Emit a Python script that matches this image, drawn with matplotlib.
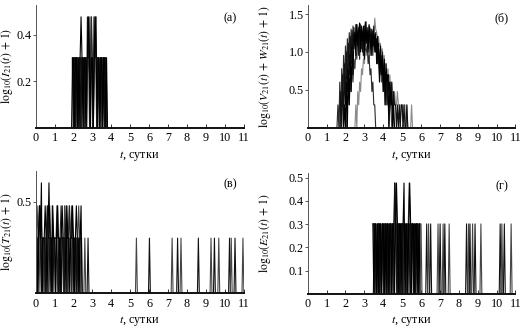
import numpy as np
import matplotlib
matplotlib.use("Agg")
import matplotlib.pyplot as plt

plt.rcParams['font.family'] = ['Liberation Serif', 'DejaVu Serif']
plt.rcParams['mathtext.fontset'] = 'stix'

DT = 0.05  # sampling step of the simulated runs, days
DAYS = list(range(12))

# Panel (а): I21 counts, runs given as (start day, counts per step)
i21_runs = [
    (1.975, "1011010110" "1101011202" "1021101101" "1011010"),
    (2.000, "0101101001" "1011011012" "1011201101" "011010"),
    (1.9375, "1010110110" "1101102110" "1101211010" "110101"),
    (1.900, "0110110101" "2101101121" "0110121011" "011011010"),
]

# Panel (б): V21 + W21 counts, five runs
vw21_runs = [
    (2.50, [0, 1, 0, 2, 1, 3, 2, 5, 4, 7, 6, 9,
            8, 11, 10, 13, 12, 15, 14, 17, 16, 27,
            19, 17, 14, 15, 11, 12, 9, 10, 7, 8, 5, 6, 4, 5, 3, 4, 2, 3,
            2, 1, 2, 1, 1, 2, 1, 1, 0, 1, 1, 0, 1, 1, 0, 1, 0, 0, 0, 0, 1, 0]),
    (2.05, [0, 1, 2, 1, 3, 2, 5, 3, 7, 5, 9, 7, 12,
            20, 9, 22, 12, 17, 8, 21, 11, 24, 10, 18, 7, 20, 12, 16, 8, 14,
            13, 9, 10, 6, 8, 4, 6, 3, 5, 2, 4, 1, 3, 1, 2, 0, 1, 1, 0, 0]),
    (1.55, [0, 1, 0, 3, 0, 5, 1, 8, 2, 11, 4, 14, 6, 17, 9,
            19, 8, 21, 11, 17, 9, 22, 12, 18, 7, 20, 10, 16, 8, 13, 10,
            9, 11, 6, 8, 4, 5, 2, 3, 1, 1, 0]),
    (1.70, [0, 2, 0, 4, 0, 6, 1, 9, 2, 12, 4, 15, 6, 18, 10,
            20, 10, 22, 13, 18, 8, 23, 12, 21, 9, 19, 11, 22, 14, 17, 9, 21, 12, 19, 8,
            18, 11, 16, 9,
            14, 6, 12, 5, 10, 4, 9, 3, 7, 2, 6, 1, 4, 2, 3, 1, 3, 0, 2, 1, 1, 0, 1, 0,
            1, 0, 1, 1, 0, 1, 0, 0, 1, 0]),
    (1.90, [0, 1, 0, 3, 0, 5, 1, 8, 2, 11, 4, 15,
            17, 8, 22, 11, 18, 23, 9, 20, 13, 21, 7, 24, 12, 20, 10, 22, 15, 8, 19, 11,
            21, 9, 17, 6, 15,
            10, 3, 11, 4, 8, 2, 7, 1, 5, 3, 4, 0, 3, 1, 2, 0, 1, 0]),
]

# Panel (в): T21 counts, dense early phase plus isolated later events
t21_runs = [
    (0.025, "1210121101" "1120110211" "0121101110" "2101121101" "1101121010"),
    (0.040, "0112101110" "1011211011" "1101012110" "1110121011" "0110101"),
    (0.0125, "1101210111" "0121101101" "1112011011" "0121101121" "01101011"),
    (0.000, "4101213011" "2101311021" "1012110121" "1102110112" "1012110120"),
]
t21_late_days = [2.60, 2.77, 5.33, 6.02, 7.22, 7.51, 7.69, 8.61, 9.28, 9.46,
                 9.69, 10.26, 10.35, 10.55, 10.97]
t21_late_counts = [1] * len(t21_late_days)

# Panel (г): E21 counts
e21_runs = [
    (3.475, "0110101101" "1011010110" "1101210110" "1101101121" "0110101101"),
    (3.500, "1010110101" "0110110101" "1021101101" "1011010110" "1101011010"),
    (3.4625, "1101011010" "1101101011" "0112101101" "1011010110" "0110101101"),
    (3.450, "1011010110" "1101011011" "0110121011" "0112011012" "10110110101"),
]
e21_late_days = [6.00, 6.30, 6.40, 6.51, 6.90, 7.01, 7.17, 7.26, 7.49, 8.41,
                 8.52, 8.59, 8.73, 8.86, 9.17, 10.19, 10.28, 10.41, 10.77]
e21_late_counts = [1] * len(e21_late_days)

RUN_COLORS = ['#8a8a8a', '#454545', '#2a2a2a', '#111111', '#000000']


def run_series(start, counts):
    n = np.array([int(c) for c in counts], dtype=float)
    t = start + DT * np.arange(len(n))
    return t, np.log10(n + 1)


def event_series(days, counts):
    t, y = [], []
    for d, c in zip(days, counts):
        t += [d - DT, d, d + DT]
        y += [0.0, np.log10(c + 1), 0.0]
    return np.array(t), np.array(y)


fig = plt.figure(figsize=(5.2, 3.28), dpi=100)

panels = [
    # rect, runs, late events, ylim top, yticks, ylabel, tag, ylabel x
    ([0.0687, 0.6107, 0.3996, 0.374], i21_runs, None, 0.528, [0.2, 0.4],
     r'$\mathrm{log}_{10}(I_{21}(t)\,+\,1)$', '(а)', -0.098),
    ([0.5917, 0.6107, 0.3996, 0.374], vw21_runs, None, 1.62, [0.5, 1.0, 1.5],
     r'$\mathrm{log}_{10}(V_{21}(t)\,+\,W_{21}(t)\,+\,1)$', '(б)', -0.165),
    ([0.0687, 0.1058, 0.3996, 0.374], t21_runs, (t21_late_days, t21_late_counts), 0.669, [0.5],
     r'$\mathrm{log}_{10}(T_{21}(t)\,+\,1)$', '(в)', -0.098),
    ([0.5917, 0.1043, 0.3996, 0.368], e21_runs, (e21_late_days, e21_late_counts), 0.52,
     [0.1, 0.2, 0.3, 0.4, 0.5],
     r'$\mathrm{log}_{10}(E_{21}(t)\,+\,1)$', '(г)', -0.165),
]

for rect, runs, late, ytop, yticks, ylabel, tag, ylab_x in panels:
    ax = fig.add_axes(rect)
    first = len(RUN_COLORS) - len(runs)
    for k, (start, counts) in enumerate(runs):
        t, y = run_series(start, counts)
        ax.plot(t, y, color=RUN_COLORS[first + k], lw=0.8)
    if late is not None:
        for k, (d, c) in enumerate(zip(*late)):
            t, y = event_series([d], [c])
            ax.plot(t, y, color=RUN_COLORS[(2 * k) % 4 + 1], lw=0.8)

    ax.set_xlim(0, 11)
    ax.set_ylim(0, ytop)
    ax.set_xticks(DAYS)
    ax.set_xticklabels([str(d) for d in DAYS])
    ax.set_yticks(yticks)
    ax.set_yticklabels([f'{v:.1f}' for v in yticks])

    ax.spines['top'].set_visible(False)
    ax.spines['right'].set_visible(False)
    ax.spines['left'].set_color('#555555')
    ax.spines['left'].set_linewidth(0.7)
    ax.spines['bottom'].set_color('#111111')
    ax.spines['bottom'].set_linewidth(1.4)

    ax.tick_params(axis='x', direction='in', length=2.6, width=0.7, color='#333333',
                   pad=3.2, labelsize=8.7)
    ax.tick_params(axis='y', direction='out', length=2.4, width=0.7, color='#555555',
                   pad=0.6, labelsize=8.7)

    ax.set_xlabel(r'$t$, сутки', fontsize=8.7)
    ax.xaxis.set_label_coords(0.5, -0.17)
    ax.set_ylabel(ylabel, fontsize=8.4)
    ax.yaxis.set_label_coords(ylab_x, 0.5)

    ax.text(0.935, 0.89, tag, transform=ax.transAxes, ha='center', va='center',
            fontsize=8.7)

fig.savefig('out.png', dpi=100)
